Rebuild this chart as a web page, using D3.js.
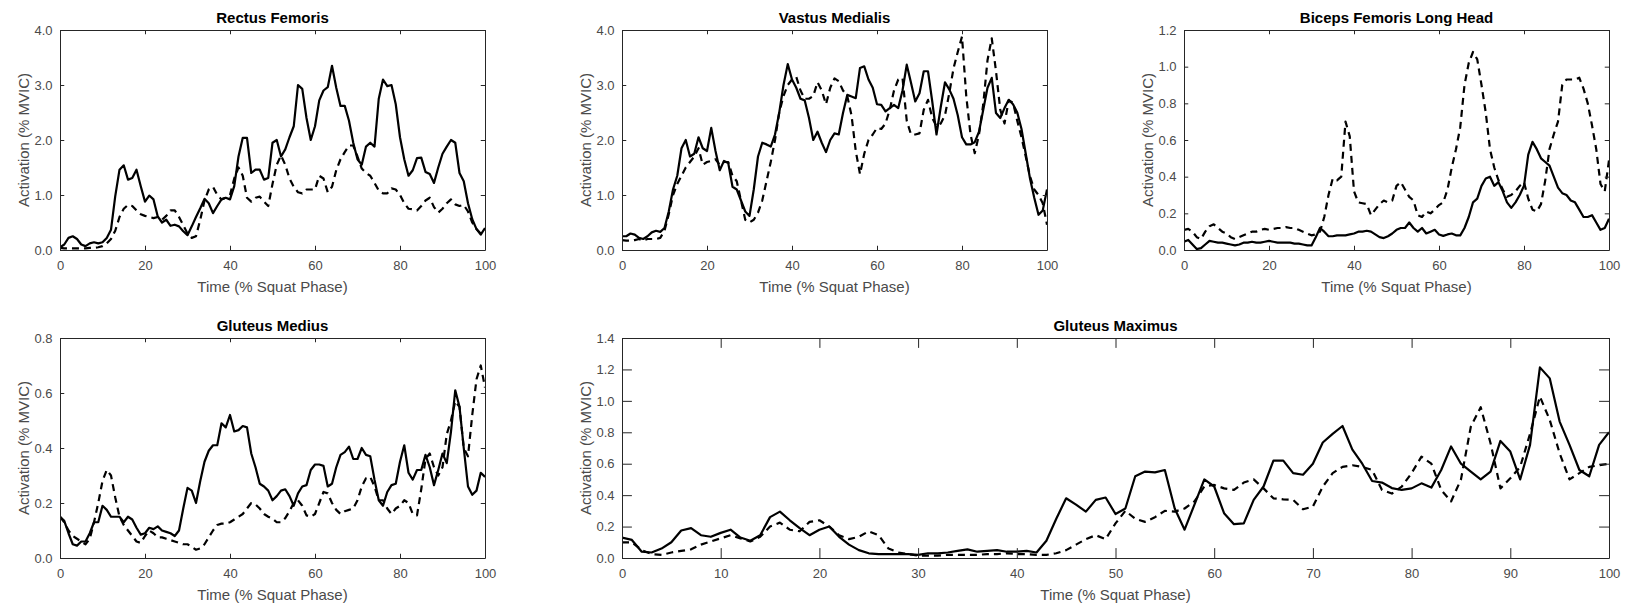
<!DOCTYPE html>
<html><head><meta charset="utf-8">
<script src="https://cdn.jsdelivr.net/npm/d3@7"></script>
<style>
body{margin:0;background:#fff;}
svg{display:block;font-family:"Liberation Sans",Arial,Helvetica,sans-serif;}
</style></head><body>
<svg id="chart" width="1625" height="606"></svg>
<script>
const timePct = d3.range(0, 101);
const xTicks20 = [0, 20, 40, 60, 80, 100];
const xTicks10 = [0, 10, 20, 30, 40, 50, 60, 70, 80, 90, 100];

const rectusSolid = [0.05,0.10,0.22,0.25,0.20,0.10,0.07,0.12,0.14,0.12,0.14,0.22,0.37,0.98,1.46,1.54,1.28,1.31,1.46,1.16,0.88,0.99,0.92,0.61,0.50,0.55,0.44,0.46,0.43,0.34,0.27,0.43,0.60,0.76,0.93,0.85,0.67,0.80,0.92,0.95,0.92,1.16,1.70,2.04,2.04,1.40,1.46,1.46,1.28,1.31,1.95,2.00,1.70,1.83,2.05,2.25,3.00,2.93,2.40,2.00,2.25,2.72,2.90,2.96,3.35,2.95,2.62,2.62,2.35,1.95,1.65,1.55,1.88,1.95,1.88,2.75,3.10,2.98,3.00,2.65,2.05,1.65,1.35,1.45,1.67,1.68,1.42,1.38,1.22,1.50,1.75,1.88,2.00,1.95,1.40,1.25,0.85,0.56,0.38,0.28,0.40];
const rectusDashed = [0.04,0.03,0.03,0.03,0.03,0.03,0.03,0.04,0.04,0.05,0.07,0.12,0.20,0.35,0.60,0.75,0.82,0.80,0.72,0.65,0.62,0.60,0.58,0.60,0.55,0.62,0.72,0.72,0.60,0.45,0.30,0.22,0.25,0.55,0.90,1.10,1.15,1.00,0.92,0.95,1.00,1.30,1.50,1.35,0.95,0.88,0.95,0.97,0.88,0.80,1.20,1.55,1.72,1.55,1.30,1.15,1.05,1.03,1.10,1.10,1.10,1.35,1.30,1.05,1.15,1.45,1.65,1.78,1.90,1.90,1.70,1.48,1.40,1.35,1.22,1.08,1.03,1.03,1.12,1.10,1.00,0.85,0.75,0.74,0.72,0.80,0.90,0.95,0.78,0.68,0.75,0.85,0.92,0.83,0.80,0.82,0.70,0.50,0.38,0.30,0.35];

const vastusSolid = [0.25,0.25,0.30,0.28,0.22,0.20,0.25,0.32,0.35,0.33,0.40,0.70,1.10,1.35,1.85,2.00,1.70,1.75,2.05,1.85,1.80,2.22,1.80,1.45,1.62,1.58,1.15,1.10,0.90,0.70,0.62,1.10,1.70,1.95,1.92,1.88,2.10,2.50,3.00,3.38,3.10,2.95,2.75,2.72,2.40,2.00,2.15,1.95,1.78,2.00,2.12,2.10,2.49,2.82,2.79,2.76,3.31,3.34,3.10,2.95,2.65,2.64,2.52,2.58,2.64,2.58,2.90,3.37,3.04,2.70,2.85,3.25,3.25,2.70,2.10,2.60,3.05,2.92,2.75,2.45,2.05,1.92,1.92,1.96,2.15,2.55,2.95,3.13,2.49,2.40,2.58,2.73,2.65,2.50,2.20,1.75,1.30,0.95,0.64,0.72,1.10];
const vastusDashed = [0.18,0.17,0.17,0.18,0.20,0.17,0.20,0.20,0.20,0.22,0.35,0.65,1.00,1.20,1.35,1.50,1.60,1.70,1.85,1.55,1.60,1.62,1.65,1.55,1.60,1.60,1.35,1.25,0.90,0.55,0.50,0.55,0.68,0.90,1.25,1.60,2.00,2.50,2.80,3.00,3.10,3.15,2.90,2.75,2.75,2.80,3.05,2.90,2.65,2.95,3.12,3.07,2.90,2.80,2.45,1.80,1.38,1.75,2.00,2.10,2.22,2.20,2.30,2.55,2.90,3.10,3.13,2.35,2.10,2.10,2.12,2.55,2.73,2.40,2.25,2.30,2.45,2.85,3.30,3.60,3.88,2.80,2.10,1.76,2.10,2.65,3.45,3.85,3.25,2.55,2.30,2.72,2.68,2.35,2.05,1.70,1.34,1.10,1.00,0.85,0.46];

const bicepsSolid = [0.045,0.055,0.03,0.005,0.01,0.03,0.05,0.045,0.04,0.04,0.035,0.03,0.025,0.03,0.04,0.04,0.045,0.04,0.04,0.045,0.05,0.045,0.04,0.04,0.04,0.04,0.035,0.035,0.03,0.025,0.025,0.07,0.12,0.10,0.075,0.075,0.08,0.08,0.08,0.085,0.09,0.10,0.10,0.105,0.10,0.085,0.07,0.065,0.075,0.09,0.11,0.12,0.12,0.15,0.12,0.10,0.12,0.09,0.10,0.11,0.085,0.077,0.085,0.09,0.08,0.08,0.12,0.18,0.26,0.28,0.35,0.39,0.40,0.35,0.37,0.32,0.26,0.23,0.26,0.30,0.35,0.52,0.59,0.55,0.50,0.48,0.46,0.40,0.34,0.31,0.30,0.27,0.26,0.22,0.18,0.18,0.19,0.15,0.11,0.12,0.17];
const bicepsDashed = [0.11,0.115,0.10,0.07,0.06,0.10,0.13,0.14,0.12,0.10,0.09,0.07,0.06,0.07,0.08,0.09,0.10,0.10,0.11,0.115,0.11,0.115,0.12,0.12,0.125,0.12,0.12,0.11,0.10,0.09,0.08,0.085,0.10,0.18,0.30,0.39,0.38,0.40,0.70,0.62,0.32,0.26,0.255,0.25,0.19,0.22,0.25,0.27,0.26,0.27,0.35,0.37,0.33,0.29,0.27,0.19,0.18,0.21,0.20,0.22,0.245,0.26,0.33,0.45,0.55,0.67,0.90,1.02,1.08,1.04,0.90,0.75,0.55,0.45,0.38,0.33,0.29,0.30,0.32,0.35,0.37,0.28,0.22,0.21,0.25,0.38,0.55,0.63,0.70,0.90,0.93,0.93,0.93,0.94,0.88,0.80,0.68,0.55,0.36,0.32,0.49];

const mediusSolid = [0.15,0.135,0.09,0.05,0.045,0.06,0.06,0.09,0.13,0.13,0.19,0.175,0.15,0.15,0.15,0.13,0.15,0.14,0.11,0.085,0.09,0.11,0.105,0.115,0.10,0.095,0.09,0.08,0.10,0.18,0.255,0.245,0.20,0.28,0.35,0.39,0.41,0.41,0.49,0.475,0.52,0.46,0.465,0.48,0.475,0.38,0.33,0.27,0.26,0.245,0.21,0.225,0.245,0.25,0.225,0.19,0.235,0.26,0.265,0.32,0.34,0.34,0.335,0.26,0.27,0.33,0.375,0.385,0.405,0.36,0.36,0.40,0.375,0.37,0.285,0.21,0.19,0.24,0.265,0.27,0.35,0.41,0.31,0.285,0.32,0.32,0.375,0.33,0.265,0.32,0.38,0.345,0.46,0.61,0.55,0.40,0.26,0.23,0.245,0.31,0.295];
const mediusDashed = [0.15,0.13,0.10,0.08,0.07,0.06,0.05,0.07,0.13,0.20,0.28,0.32,0.30,0.22,0.15,0.12,0.10,0.08,0.06,0.055,0.08,0.10,0.09,0.075,0.075,0.07,0.065,0.06,0.055,0.05,0.05,0.04,0.03,0.035,0.05,0.075,0.10,0.12,0.125,0.125,0.13,0.14,0.15,0.16,0.18,0.20,0.195,0.18,0.16,0.15,0.143,0.13,0.13,0.145,0.17,0.20,0.21,0.19,0.155,0.15,0.16,0.20,0.24,0.235,0.20,0.175,0.16,0.17,0.175,0.18,0.21,0.26,0.29,0.295,0.26,0.21,0.21,0.18,0.16,0.18,0.19,0.21,0.20,0.16,0.155,0.25,0.36,0.38,0.33,0.30,0.33,0.45,0.50,0.57,0.55,0.40,0.37,0.52,0.65,0.70,0.62];

const maximusSolid = [0.13,0.115,0.04,0.035,0.06,0.10,0.175,0.19,0.145,0.135,0.16,0.18,0.13,0.11,0.145,0.26,0.295,0.24,0.19,0.145,0.18,0.20,0.135,0.085,0.05,0.03,0.025,0.025,0.025,0.025,0.02,0.03,0.03,0.035,0.045,0.055,0.04,0.045,0.05,0.04,0.04,0.045,0.035,0.11,0.25,0.38,0.34,0.295,0.37,0.385,0.28,0.315,0.52,0.55,0.545,0.56,0.315,0.18,0.34,0.50,0.455,0.285,0.215,0.22,0.37,0.455,0.62,0.62,0.54,0.53,0.60,0.735,0.79,0.84,0.69,0.60,0.49,0.48,0.445,0.433,0.443,0.475,0.448,0.56,0.71,0.60,0.55,0.50,0.55,0.745,0.677,0.50,0.72,1.213,1.143,0.868,0.72,0.56,0.52,0.72,0.80];
const maximusDashed = [0.10,0.10,0.05,0.025,0.02,0.035,0.045,0.055,0.085,0.105,0.125,0.145,0.125,0.105,0.135,0.20,0.225,0.18,0.17,0.23,0.24,0.20,0.145,0.12,0.135,0.17,0.145,0.06,0.035,0.025,0.015,0.015,0.015,0.02,0.02,0.02,0.02,0.025,0.025,0.03,0.025,0.025,0.02,0.02,0.03,0.05,0.085,0.12,0.145,0.12,0.22,0.30,0.25,0.23,0.26,0.30,0.295,0.315,0.36,0.455,0.465,0.443,0.433,0.48,0.50,0.443,0.38,0.373,0.37,0.31,0.327,0.454,0.54,0.58,0.59,0.58,0.56,0.433,0.41,0.454,0.54,0.645,0.60,0.433,0.36,0.50,0.835,0.96,0.73,0.443,0.507,0.58,0.79,1.027,0.878,0.666,0.50,0.54,0.58,0.59,0.60];

const yTicksRF = [0, 1, 2, 3, 4];
const yTicksBF = [0, 0.2, 0.4, 0.6, 0.8, 1.0, 1.2];
const yTicksGMed = [0, 0.2, 0.4, 0.6, 0.8];
const yTicksGMax = [0, 0.2, 0.4, 0.6, 0.8, 1.0, 1.2, 1.4];

const panels = [
  {title: "Rectus Femoris", solid: rectusSolid, dashed: rectusDashed, yTicks: yTicksRF, xTicks: xTicks20, box: [60, 30, 485, 250], tick: 4.25},
  {title: "Vastus Medialis", solid: vastusSolid, dashed: vastusDashed, yTicks: yTicksRF, xTicks: xTicks20, box: [622, 30, 1047, 250], tick: 4.25},
  {title: "Biceps Femoris Long Head", solid: bicepsSolid, dashed: bicepsDashed, yTicks: yTicksBF, xTicks: xTicks20, box: [1184, 30, 1609, 250], tick: 4.25},
  {title: "Gluteus Medius", solid: mediusSolid, dashed: mediusDashed, yTicks: yTicksGMed, xTicks: xTicks20, box: [60, 338, 485, 558], tick: 4.25},
  {title: "Gluteus Maximus", solid: maximusSolid, dashed: maximusDashed, yTicks: yTicksGMax, xTicks: xTicks10, box: [622, 338, 1609, 558], tick: 9.9}
];

const svg = d3.select("#chart");
const axisColor = "#262626";
const textColor = "#4a4a4a";

panels.forEach((p, i) => {
  const [x0, y0, x1, y1] = p.box;
  const x = d3.scaleLinear().domain([0, 100]).range([x0, x1]);
  const y = d3.scaleLinear().domain([0, d3.max(p.yTicks)]).range([y1, y0]);
  const g = svg.append("g");
  const cid = "clip" + i;
  svg.append("clipPath").attr("id", cid).append("rect")
    .attr("x", x0).attr("y", y0).attr("width", x1 - x0).attr("height", y1 - y0);

  const line = d3.line().x((d, k) => x(timePct[k])).y(d => y(d));

  g.append("path").datum(p.dashed).attr("d", line)
    .attr("fill", "none").attr("stroke", "#000").attr("stroke-width", 2.2)
    .attr("stroke-dasharray", "7,5").attr("stroke-linejoin", "round")
    .attr("clip-path", `url(#${cid})`);
  g.append("path").datum(p.solid).attr("d", line)
    .attr("fill", "none").attr("stroke", "#000").attr("stroke-width", 2.2)
    .attr("stroke-linejoin", "round")
    .attr("clip-path", `url(#${cid})`);

  const tl = p.tick;
  const axes = [
    g.append("g").attr("transform", `translate(0,${y1})`)
      .call(d3.axisBottom(x).tickValues(p.xTicks).tickSize(-tl).tickSizeOuter(0).tickPadding(11).tickFormat(d3.format("d"))),
    g.append("g").attr("transform", `translate(0,${y0})`)
      .call(d3.axisTop(x).tickValues(p.xTicks).tickSize(-tl).tickSizeOuter(0).tickFormat("")),
    g.append("g").attr("transform", `translate(${x0},0)`)
      .call(d3.axisLeft(y).tickValues(p.yTicks).tickSize(-tl).tickSizeOuter(0).tickPadding(7.5).tickFormat(d3.format(".1f"))),
    g.append("g").attr("transform", `translate(${x1},0)`)
      .call(d3.axisRight(y).tickValues(p.yTicks).tickSize(-tl).tickSizeOuter(0).tickFormat(""))
  ];
  axes.forEach(a => {
    a.attr("font-family", null).attr("font-size", 13);
    a.select(".domain").attr("stroke", axisColor).attr("stroke-width", 1);
    a.selectAll(".tick line").attr("stroke", axisColor).attr("stroke-width", 1);
    a.selectAll(".tick text").attr("fill", textColor);
  });

  g.append("text").attr("x", (x0 + x1) / 2).attr("y", y0 - 7)
    .attr("text-anchor", "middle").attr("font-weight", "bold").attr("font-size", 15)
    .attr("fill", "#000").text(p.title);
  g.append("text").attr("x", (x0 + x1) / 2).attr("y", y1 + 41.5)
    .attr("text-anchor", "middle").attr("font-size", 15).attr("fill", textColor)
    .text("Time (% Squat Phase)");
  g.append("text").attr("transform", `translate(${x0 - 31},${(y0 + y1) / 2}) rotate(-90)`)
    .attr("text-anchor", "middle").attr("font-size", 15).attr("fill", textColor)
    .text("Activation (% MVIC)");
});
</script>
</body></html>
